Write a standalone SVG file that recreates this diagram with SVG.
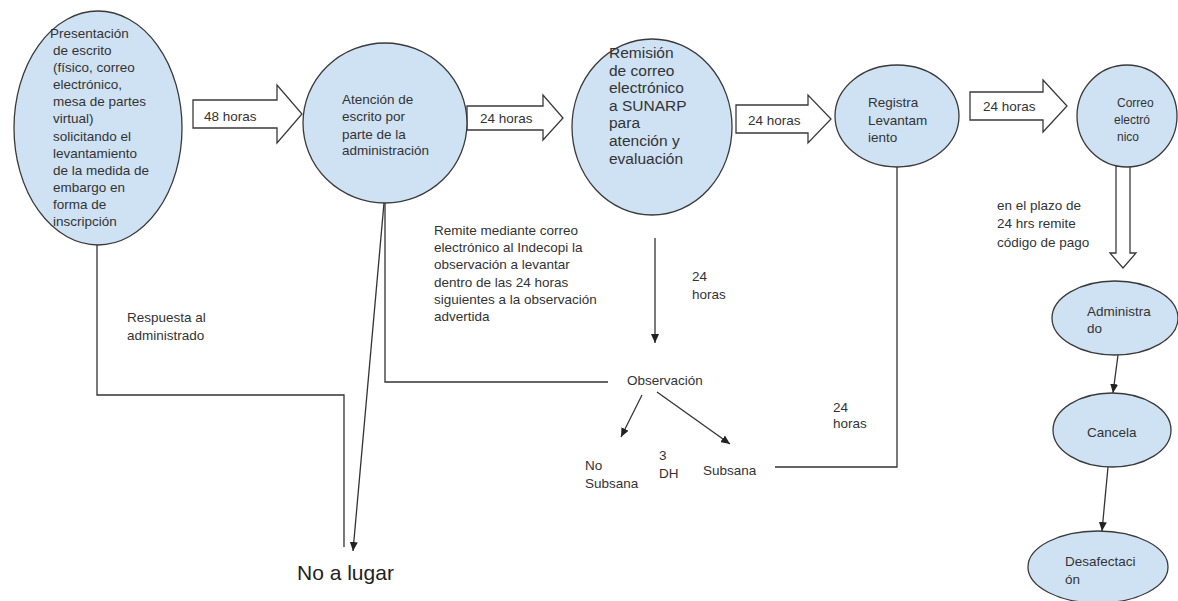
<svg xmlns="http://www.w3.org/2000/svg" width="1178" height="601" viewBox="0 0 1178 601">
<defs>
<style>
.node{fill:#cfe2f3;stroke:#3a3a3a;stroke-width:1.3}
.blk{fill:#ffffff;stroke:#3a3a3a;stroke-width:1.3}
.ln{fill:none;stroke:#333;stroke-width:1.3}
.t{font-family:"Liberation Sans",Arial,sans-serif;font-size:13.5px;fill:#333}
.t3{font-family:"Liberation Sans",Arial,sans-serif;font-size:15.5px;fill:#333}
.t5{font-family:"Liberation Sans",Arial,sans-serif;font-size:12px;fill:#333}
.big{font-family:"Liberation Sans",Arial,sans-serif;font-size:21px;fill:#222}
</style>
<marker id="ah" markerUnits="userSpaceOnUse" markerWidth="10" markerHeight="8" refX="9" refY="4" orient="auto">
<path d="M0,0 L9,4 L0,8 Z" fill="#222"/>
</marker>
</defs>
<rect width="1178" height="601" fill="#ffffff"/>

<g id="connectors">
<polyline class="ln" points="97,244 97,395 344,395 344,547"/>
<line class="ln" x1="384" y1="203" x2="353" y2="551" marker-end="url(#ah)"/>
<polyline class="ln" points="385,203 385,382 608,382"/>
<line class="ln" x1="655" y1="238" x2="655" y2="343" marker-end="url(#ah)"/>
<line class="ln" x1="642" y1="395" x2="621" y2="437" marker-end="url(#ah)"/>
<line class="ln" x1="657" y1="392" x2="730" y2="444" marker-end="url(#ah)"/>
<polyline class="ln" points="775,467 897,467 897,167"/>
<line class="ln" x1="1118" y1="355" x2="1113" y2="393" marker-end="url(#ah)"/>
<line class="ln" x1="1108" y1="467" x2="1102" y2="531" marker-end="url(#ah)"/>
<polygon class="blk" points="193,100 277,100 277,85 302,114 277,143 277,128 193,128"/>
<polygon class="blk" points="467,106 543,106 543,95 563,118 543,140 543,130 467,130"/>
<polygon class="blk" points="736,105 808,105 808,95 831,119 808,143 808,133 736,133"/>
<polygon class="blk" points="970,92 1043,92 1043,80 1067,106 1043,132 1043,120 970,120"/>
<polygon class="blk" points="1116,166 1130,166 1130,253 1136,253 1123,268 1110,253 1116,253"/>
<text class="t" x="204" y="121">48 horas</text>
<text class="t" x="480" y="123">24 horas</text>
<text class="t" x="748" y="125">24 horas</text>
<text class="t" x="983" y="111">24 horas</text>
<text class="t" x="127" y="322">Respuesta al</text>
<text class="t" x="127" y="340">administrado</text>
<text class="t"><tspan x="434" y="235">Remite mediante correo</tspan><tspan x="434" y="252">electrónico al Indecopi la</tspan><tspan x="434" y="269">observación a levantar</tspan><tspan x="434" y="287">dentro de las 24 horas</tspan><tspan x="434" y="304">siguientes a la observación</tspan><tspan x="434" y="321">advertida</tspan></text>
<text class="t"><tspan x="692" y="281">24</tspan><tspan x="692" y="299">horas</tspan></text>
<text class="t"><tspan x="833" y="412">24</tspan><tspan x="833" y="428">horas</tspan></text>
<text class="t"><tspan x="997" y="210">en el plazo de</tspan><tspan x="997" y="228">24 hrs remite</tspan><tspan x="997" y="247">código de pago</tspan></text>
</g>

<g id="n1">
<ellipse class="node" cx="98" cy="128" rx="84" ry="117"/>
<text class="t"><tspan x="50" y="38">Presentación</tspan><tspan x="53" y="55">de escrito</tspan><tspan x="53" y="72">(físico, correo</tspan><tspan x="53" y="89">electrónico,</tspan><tspan x="53" y="106">mesa de partes</tspan><tspan x="53" y="123">virtual)</tspan><tspan x="53" y="141">solicitando el</tspan><tspan x="53" y="158">levantamiento</tspan><tspan x="53" y="175">de la medida de</tspan><tspan x="53" y="192">embargo en</tspan><tspan x="53" y="209">forma de</tspan><tspan x="53" y="226">inscripción</tspan></text>
</g>

<g id="n2">
<ellipse class="node" cx="385" cy="123" rx="82" ry="80"/>
<text class="t"><tspan x="342" y="104">Atención de</tspan><tspan x="342" y="121">escrito por</tspan><tspan x="342" y="139">parte de la</tspan><tspan x="342" y="155">administración</tspan></text>
</g>

<g id="n3">
<ellipse class="node" cx="652" cy="127" rx="80" ry="88"/>
<text class="t3"><tspan x="609" y="58">Remisión</tspan><tspan x="609" y="76">de correo</tspan><tspan x="609" y="93">electrónico</tspan><tspan x="609" y="111">a SUNARP</tspan><tspan x="609" y="128">para</tspan><tspan x="609" y="146">atención y</tspan><tspan x="609" y="164">evaluación</tspan></text>
</g>

<g id="n4">
<ellipse class="node" cx="897" cy="116" rx="62" ry="51"/>
<text class="t"><tspan x="868" y="107">Registra</tspan><tspan x="868" y="125">Levantam</tspan><tspan x="868" y="142">iento</tspan></text>
</g>

<g id="n5">
<ellipse class="node" cx="1127" cy="116" rx="50" ry="51"/>
<text class="t5"><tspan x="1117" y="107">Correo</tspan><tspan x="1114" y="124">electró</tspan><tspan x="1117" y="141">nico</tspan></text>
</g>

<g id="n6">
<text class="t" x="627" y="385">Observación</text>
</g>
<g id="n7">
<text class="t"><tspan x="585" y="470">No</tspan><tspan x="585" y="488">Subsana</tspan></text>
</g>
<g id="n8">
<text class="t"><tspan x="659" y="460">3</tspan><tspan x="659" y="478">DH</tspan></text>
</g>
<g id="n9">
<text class="t" x="703" y="475">Subsana</text>
</g>
<g id="n10">
<text class="big" x="297" y="580">No a lugar</text>
</g>

<g id="n11">
<ellipse class="node" cx="1115" cy="318" rx="63" ry="37"/>
<text class="t"><tspan x="1087" y="316">Administra</tspan><tspan x="1087" y="333">do</tspan></text>
</g>
<g id="n12">
<ellipse class="node" cx="1112" cy="430" rx="59" ry="37"/>
<text class="t" x="1087" y="437">Cancela</text>
</g>
<g id="n13">
<ellipse class="node" cx="1098" cy="567" rx="70" ry="36"/>
<text class="t"><tspan x="1065" y="566">Desafectaci</tspan><tspan x="1065" y="584">ón</tspan></text>
</g>
</svg>
